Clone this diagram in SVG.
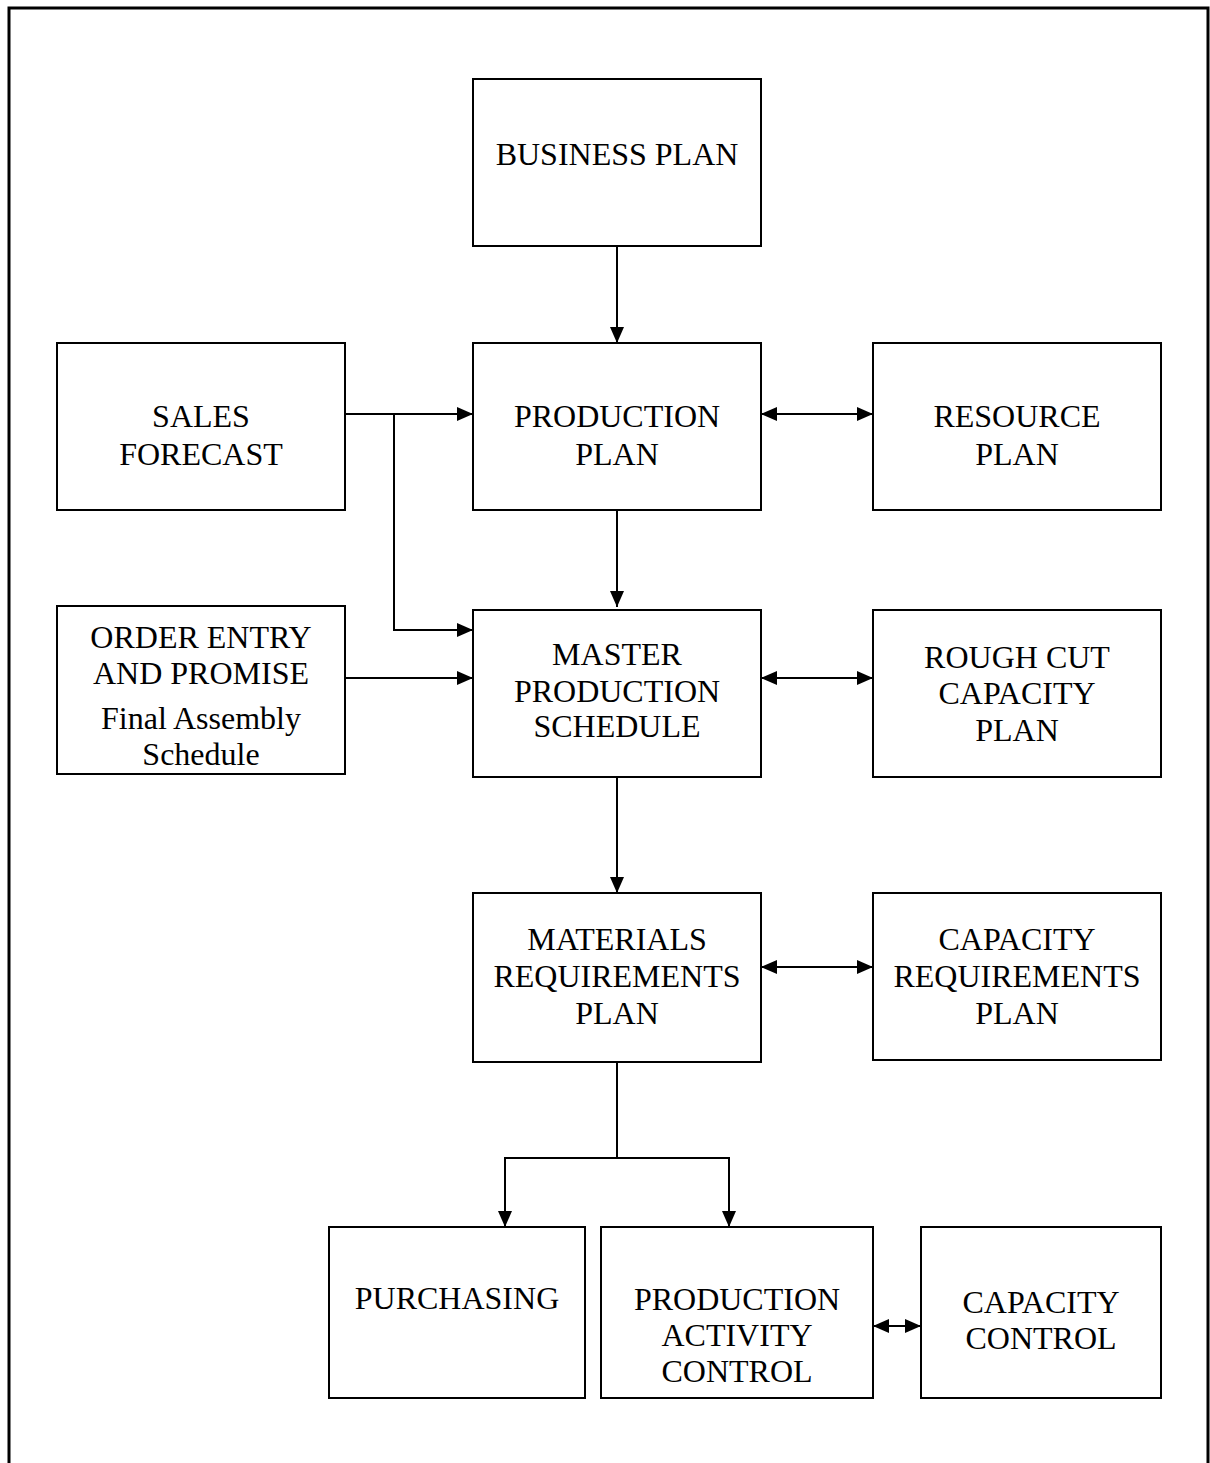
<svg xmlns="http://www.w3.org/2000/svg" width="1210" height="1463" viewBox="0 0 1210 1463">
  <style>
    .box { fill: #fff; stroke: #000; stroke-width: 2; }
    .lbl { font-family: "Liberation Serif", "Times New Roman", serif; font-size: 32px; fill: #000; text-anchor: middle; }
    .wire { fill: none; stroke: #000; stroke-width: 2; }
  </style>
  <defs>
    <marker id="head" viewBox="0 0 16 14" refX="16" refY="7" markerWidth="16" markerHeight="14" markerUnits="userSpaceOnUse" orient="auto-start-reverse">
      <path d="M0,0 L16,7 L0,14 Z" fill="#000"/>
    </marker>
  </defs>
  <rect x="0" y="0" width="1210" height="1463" fill="#fff"/>
  <!-- page frame -->
  <path d="M9,1470 V8 H1208 V1470" fill="none" stroke="#000" stroke-width="3"/>

  <g id="business-plan">
    <rect class="box" x="473" y="79" width="288" height="167"/>
    <text class="lbl" x="617" y="165">BUSINESS PLAN</text>
  </g>
  <g id="sales-forecast">
    <rect class="box" x="57" y="343" width="288" height="167"/>
    <text class="lbl" x="201" y="427">SALES</text>
    <text class="lbl" x="201" y="465">FORECAST</text>
  </g>
  <g id="production-plan">
    <rect class="box" x="473" y="343" width="288" height="167"/>
    <text class="lbl" x="617" y="427">PRODUCTION</text>
    <text class="lbl" x="617" y="465">PLAN</text>
  </g>
  <g id="resource-plan">
    <rect class="box" x="873" y="343" width="288" height="167"/>
    <text class="lbl" x="1017" y="427">RESOURCE</text>
    <text class="lbl" x="1017" y="465">PLAN</text>
  </g>
  <g id="order-entry">
    <rect class="box" x="57" y="606" width="288" height="168"/>
    <text class="lbl" x="201" y="648">ORDER ENTRY</text>
    <text class="lbl" x="201" y="684">AND PROMISE</text>
    <text class="lbl" x="201" y="729">Final Assembly</text>
    <text class="lbl" x="201" y="765">Schedule</text>
  </g>
  <g id="master-production-schedule">
    <rect class="box" x="473" y="610" width="288" height="167"/>
    <text class="lbl" x="617" y="665">MASTER</text>
    <text class="lbl" x="617" y="702">PRODUCTION</text>
    <text class="lbl" x="617" y="737">SCHEDULE</text>
  </g>
  <g id="rough-cut-capacity-plan">
    <rect class="box" x="873" y="610" width="288" height="167"/>
    <text class="lbl" x="1017" y="668">ROUGH CUT</text>
    <text class="lbl" x="1017" y="704">CAPACITY</text>
    <text class="lbl" x="1017" y="741">PLAN</text>
  </g>
  <g id="materials-requirements-plan">
    <rect class="box" x="473" y="893" width="288" height="169"/>
    <text class="lbl" x="617" y="950">MATERIALS</text>
    <text class="lbl" x="617" y="987">REQUIREMENTS</text>
    <text class="lbl" x="617" y="1024">PLAN</text>
  </g>
  <g id="capacity-requirements-plan">
    <rect class="box" x="873" y="893" width="288" height="167"/>
    <text class="lbl" x="1017" y="950">CAPACITY</text>
    <text class="lbl" x="1017" y="987">REQUIREMENTS</text>
    <text class="lbl" x="1017" y="1024">PLAN</text>
  </g>
  <g id="purchasing">
    <rect class="box" x="329" y="1227" width="256" height="171"/>
    <text class="lbl" x="457" y="1309">PURCHASING</text>
  </g>
  <g id="production-activity-control">
    <rect class="box" x="601" y="1227" width="272" height="171"/>
    <text class="lbl" x="737" y="1310">PRODUCTION</text>
    <text class="lbl" x="737" y="1346">ACTIVITY</text>
    <text class="lbl" x="737" y="1382">CONTROL</text>
  </g>
  <g id="capacity-control">
    <rect class="box" x="921" y="1227" width="240" height="171"/>
    <text class="lbl" x="1041" y="1313">CAPACITY</text>
    <text class="lbl" x="1041" y="1349">CONTROL</text>
  </g>

  <g id="connectors">
    <line class="wire" x1="617" y1="246" x2="617" y2="343" marker-end="url(#head)"/>
    <line class="wire" x1="345" y1="414" x2="473" y2="414" marker-end="url(#head)"/>
    <path class="wire" d="M394,414 V630 H473" marker-end="url(#head)"/>
    <line class="wire" x1="345" y1="678" x2="473" y2="678" marker-end="url(#head)"/>
    <line class="wire" x1="761" y1="414" x2="873" y2="414" marker-start="url(#head)" marker-end="url(#head)"/>
    <line class="wire" x1="617" y1="510" x2="617" y2="607" marker-end="url(#head)"/>
    <line class="wire" x1="761" y1="678" x2="873" y2="678" marker-start="url(#head)" marker-end="url(#head)"/>
    <line class="wire" x1="617" y1="777" x2="617" y2="893" marker-end="url(#head)"/>
    <line class="wire" x1="761" y1="967" x2="873" y2="967" marker-start="url(#head)" marker-end="url(#head)"/>
    <line class="wire" x1="617" y1="1062" x2="617" y2="1158"/>
    <path class="wire" d="M617,1158 H505 V1227" marker-end="url(#head)"/>
    <path class="wire" d="M617,1158 H729 V1227" marker-end="url(#head)"/>
    <line class="wire" x1="873" y1="1326" x2="921" y2="1326" marker-start="url(#head)" marker-end="url(#head)"/>
  </g>
</svg>
